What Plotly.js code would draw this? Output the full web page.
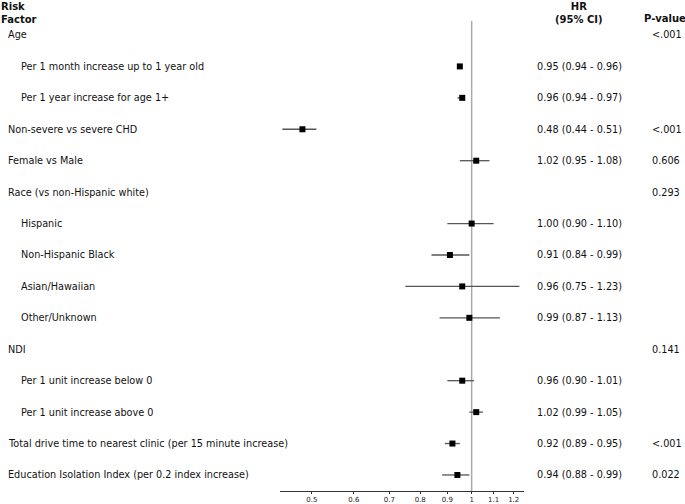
<!DOCTYPE html>
<html>
<head>
<meta charset="utf-8">
<script src="https://cdn.plot.ly/plotly-3.0.1.min.js"></script>
<style>body{margin:0;padding:0;} #plot{width:685px;height:504px;}</style>
</head>
<body>
<div id="plot"></div>
<script>
// rows, top to bottom
var labels = ["Age", "Per 1 month increase up to 1 year old", "Per 1 year increase for age 1+",
  "Non-severe vs severe CHD", "Female vs Male", "Race (vs non-Hispanic white)", "Hispanic",
  "Non-Hispanic Black", "Asian/Hawaiian", "Other/Unknown", "NDI", "Per 1 unit increase below 0",
  "Per 1 unit increase above 0", "Total drive time to nearest clinic (per 15 minute increase)",
  "Education Isolation Index (per 0.2 index increase)"];
var indent = [0, 1, 1, 0, 0, 0, 1, 1, 1, 1, 0, 1, 1, 0, 0];
var hr  = [null, 0.95, 0.96, 0.48, 1.02, null, 1.00, 0.91, 0.96, 0.99, null, 0.96, 1.02, 0.92, 0.94];
var lo  = [null, 0.94, 0.94, 0.44, 0.95, null, 0.90, 0.84, 0.75, 0.87, null, 0.90, 0.99, 0.89, 0.88];
var hi  = [null, 0.96, 0.97, 0.51, 1.08, null, 1.10, 0.99, 1.23, 1.13, null, 1.01, 1.05, 0.95, 0.99];
var hrText = ["", "0.95 (0.94 - 0.96)", "0.96 (0.94 - 0.97)", "0.48 (0.44 - 0.51)", "1.02 (0.95 - 1.08)", "",
  "1.00 (0.90 - 1.10)", "0.91 (0.84 - 0.99)", "0.96 (0.75 - 1.23)", "0.99 (0.87 - 1.13)", "",
  "0.96 (0.90 - 1.01)", "1.02 (0.99 - 1.05)", "0.92 (0.89 - 0.95)", "0.94 (0.88 - 0.99)"];
var pval = ["<.001", "", "", "<.001", "0.606", "0.293", "", "", "", "", "0.141", "", "", "<.001", "0.022"];
var tickVals = [0.5, 0.6, 0.7, 0.8, 0.9, 1, 1.1, 1.2];
var tickText = ["0.5", "0.6", "0.7", "0.8", "0.9", "1", "1.1", "1.2"];

var xs = [], ys = [], ep = [], em = [];
for (var i = 0; i < labels.length; i++) {
  if (hr[i] !== null) {
    xs.push(hr[i]); ys.push(i);
    ep.push(hi[i] - hr[i]); em.push(hr[i] - lo[i]);
  }
}

var trace = {
  x: xs, y: ys, type: 'scatter', mode: 'markers',
  marker: {symbol: 'square', size: 6, color: '#000'},
  error_x: {type: 'data', symmetric: false, array: ep, arrayminus: em,
            color: '#555', thickness: 1.3, width: 0},
  hoverinfo: 'skip', showlegend: false
};

// pixel x -> paper x (plot area 280..524)
function px(v) { return (v - 280) / 244; }

var fnt = {family: 'DejaVu Sans', size: 9.7, color: '#111'};
var hfnt = {family: 'DejaVu Sans', size: 10, color: '#111'};
var ann = [];
for (var i = 0; i < labels.length; i++) {
  ann.push({xref: 'paper', yref: 'y', x: px(indent[i] ? 19 : 6), y: i, text: labels[i],
    showarrow: false, xanchor: 'left', font: fnt});
  if (hrText[i]) ann.push({xref: 'paper', yref: 'y', x: px(535), y: i, text: hrText[i],
    showarrow: false, xanchor: 'left', font: fnt});
  if (pval[i]) ann.push({xref: 'paper', yref: 'y', x: px(650), y: i, text: pval[i],
    showarrow: false, xanchor: 'left', font: fnt});
}
ann.push({xref: 'paper', yref: 'paper', x: px(-1), y: 1, yshift: 22, yanchor: 'top', xanchor: 'left',
  align: 'left', text: '<b>Risk<br>Factor</b>', showarrow: false, font: hfnt});
ann.push({xref: 'paper', yref: 'paper', x: px(579), y: 1, yshift: 22, yanchor: 'top', xanchor: 'center',
  align: 'center', text: '<b>HR<br>(95% CI)</b>', showarrow: false, font: hfnt});
ann.push({xref: 'paper', yref: 'paper', x: px(665), y: 1, yshift: 10, yanchor: 'top', xanchor: 'center',
  text: '<b>P-value</b>', showarrow: false, font: hfnt});

var layout = {
  width: 685, height: 504,
  margin: {l: 280, r: 161, t: 21, b: 13},
  paper_bgcolor: '#fff', plot_bgcolor: '#fff',
  xaxis: {type: 'log', range: [-0.361, 0.0986], tickvals: tickVals, ticktext: tickText,
    showgrid: false, zeroline: false, showline: true, linecolor: '#333', linewidth: 1,
    ticks: 'outside', ticklen: 2, tickcolor: '#333', tickfont: {family: 'DejaVu Sans', size: 7, color: '#222'}},
  yaxis: {range: [14.51, -0.445], showgrid: false, zeroline: false, showticklabels: false, showline: false},
  shapes: [{type: 'line', xref: 'x', yref: 'paper', x0: 1, x1: 1, y0: 0, y1: 1,
    line: {color: '#aaa', width: 1.5}, layer: 'below'}],
  annotations: ann
};

Plotly.newPlot('plot', [trace], layout, {displayModeBar: false, staticPlot: true});
</script>
</body>
</html>
